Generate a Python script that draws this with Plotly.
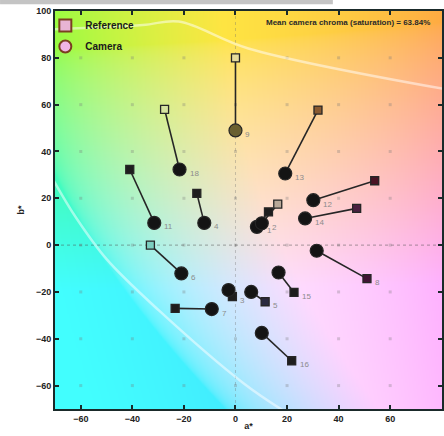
import base64, struct, zlib
import numpy as np
import plotly.graph_objects as go

# ---------------- data ----------------
labels = ["9", "18", "11", "4", "13", "12", "14", "1", "2", "6", "7", "3", "8", "15", "5", "16"]
ref_a = [0, -27.5, -41, -15, 32, 54, 47, 12.8, 16.4, -33, -23.4, -1.2, 51, 22.7, 11.5, 21.8]
ref_b = [80, 58, 32.3, 22.1, 57.7, 27.5, 15.7, 14.2, 17.5, 0, -27, -22, -14.3, -20.2, -24.2, -49.4]
cam_a = [0, -21.7, -31.5, -12.1, 19.3, 30.2, 27, 8.3, 10.2, -21, -9.2, -2.7, 31.5, 16.7, 6.1, 10.2]
cam_b = [49, 32.3, 9.5, 9.5, 30.6, 19.2, 11.4, 7.8, 9.3, -12.1, -27.3, -19.2, -2.4, -11.7, -20, -37.5]

gamut_top_a = [-75, -36, -22, 5, 82]
gamut_top_b = [92, 94, 95.5, 84, 66.5]
gamut_left_a = [-71, -62, -50, -29.8, 3.1, 19]
gamut_left_b = [28.5, 12, -6, -27.8, -59, -71]

x_ticks = [-60, -40, -20, 0, 20, 40, 60, 80]
y_ticks = [-60, -40, -20, 0, 20, 40, 60, 80, 100]
x_range = [-70, 80.1]
y_range = [-70, 100]
chroma_text = "Mean camera chroma (saturation) = 63.84%"

# ---------------- styles ----------------
ref_fill = ["#e6dc9a", "#d6e4a0", "#1e1e1e", "#1e1e1e", "#8a5a30", "#4a1424", "#4a2040",
            "#1e1e1e", "#b8a898", "#7ccfc0", "#1e1e1e", "#1e1e1e", "#401434", "#1e1e1e",
            "#2a2a40", "#1e1e1e"]
cam_fill = ["#6a6030"] + ["#141414"] * 15

# ---------------- background (a*b* plane at fixed L) ----------------
def lab_to_srgb(L, a, b):
    fy = (L + 16) / 116.0
    fx = fy + a / 500.0
    fz = fy - b / 200.0
    d = 6 / 29
    finv = lambda t: np.where(t > d, t ** 3, 3 * d * d * (t - 4 / 29))
    X = 0.95047 * finv(fx)
    Y = 1.0 * finv(fy)
    Z = 1.08883 * finv(fz)
    R = 3.2406 * X - 1.5372 * Y - 0.4986 * Z
    G = -0.9689 * X + 1.8758 * Y + 0.0415 * Z
    B = 0.0557 * X - 0.2040 * Y + 1.0570 * Z
    rgb = np.stack([R, G, B], axis=-1)
    rgb = np.clip(rgb, 0, 1)
    rgb = np.where(rgb > 0.0031308, 1.055 * np.power(rgb, 1 / 2.4) - 0.055, 12.92 * rgb)
    return np.clip(rgb, 0, 1)

W, H = 300, 340
aa = np.linspace(x_range[0], x_range[1], W)
bb = np.linspace(y_range[1], y_range[0], H)
A, B = np.meshgrid(aa, bb)
rgbf = lab_to_srgb(88.0, A, B)
rgbf = rgbf * 0.74 + 0.26
img = (np.clip(rgbf, 0, 1) * 255).astype(np.uint8)

def png_data_uri(arr):
    h, w, _ = arr.shape
    raw = b"".join(b"\x00" + arr[r].tobytes() for r in range(h))
    def chunk(tag, data):
        c = struct.pack(">I", len(data)) + tag + data
        return c + struct.pack(">I", zlib.crc32(tag + data) & 0xFFFFFFFF)
    png = b"\x89PNG\r\n\x1a\n" + chunk(b"IHDR", struct.pack(">IIBBBBB", w, h, 8, 2, 0, 0, 0)) \
        + chunk(b"IDAT", zlib.compress(raw, 9)) + chunk(b"IEND", b"")
    return "data:image/png;base64," + base64.b64encode(png).decode()

fig = go.Figure()

# grid dots
gx, gy = [], []
for xv in x_ticks[:-1]:
    for yv in y_ticks[:-1]:
        gx.append(xv)
        gy.append(yv)
fig.add_trace(go.Scatter(x=gx, y=gy, mode="markers", hoverinfo="skip", showlegend=False,
                         marker=dict(symbol="square", size=3, color="rgba(120,120,120,0.3)")))

# zero lines
fig.add_trace(go.Scatter(x=[0, 0], y=y_range, mode="lines", hoverinfo="skip", showlegend=False,
                         line=dict(color="rgba(110,110,110,0.35)", width=1, dash="dot")))
fig.add_trace(go.Scatter(x=x_range, y=[0, 0], mode="lines", hoverinfo="skip", showlegend=False,
                         line=dict(color="rgba(80,80,80,0.5)", width=1, dash="dot")))

# gamut outline
for ga, gb in [(gamut_top_a, gamut_top_b), (gamut_left_a, gamut_left_b)]:
    fig.add_trace(go.Scatter(x=ga, y=gb, mode="lines", hoverinfo="skip", showlegend=False,
                             line=dict(color="rgba(255,255,255,0.5)", width=2.5, shape="spline")))

# connecting lines
lx, ly = [], []
for ra, rb, ca, cb in zip(ref_a, ref_b, cam_a, cam_b):
    lx += [ra, ca, None]
    ly += [rb, cb, None]
fig.add_trace(go.Scatter(x=lx, y=ly, mode="lines", hoverinfo="skip", showlegend=False,
                         line=dict(color="#262626", width=1.6)))

# reference squares & camera circles
fig.add_trace(go.Scatter(x=ref_a, y=ref_b, mode="markers", showlegend=False, name="Reference",
                         marker=dict(symbol="square", size=8, color=ref_fill,
                                     line=dict(color="#262626", width=1.3))))
fig.add_trace(go.Scatter(x=cam_a, y=cam_b, mode="markers", showlegend=False, name="Camera",
                         marker=dict(symbol="circle", size=13, color=cam_fill,
                                     line=dict(color="#262626", width=1.2))))

# legend entries
fig.add_trace(go.Scatter(x=[None], y=[None], mode="markers", name="Reference", legendgroup="r",
                         marker=dict(symbol="square", size=8, color="#e8b4d4",
                                     line=dict(color="#7a4020", width=1.5))))
fig.add_trace(go.Scatter(x=[None], y=[None], mode="markers", name="Camera", legendgroup="c",
                         marker=dict(symbol="circle", size=12, color="#f0b4e4",
                                     line=dict(color="#7a4020", width=1.5))))

# patch labels (next to lower point of each pair)
annotations = []
for lab, ra, rb, ca, cb in zip(labels, ref_a, ref_b, cam_a, cam_b):
    if cb <= rb:
        px, py, sh = ca, cb, 8
    else:
        px, py, sh = ra, rb, 6
    annotations.append(dict(x=px, y=py, xref="x", yref="y", text=lab, showarrow=False,
                            xanchor="left", yanchor="middle", xshift=sh, yshift=-4,
                            font=dict(size=8, color="#8c8c8c", family="Liberation Sans")))

annotations.append(dict(x=0.975, y=0.972, xref="paper", yref="paper", text=chroma_text,
                        showarrow=False, xanchor="right", yanchor="middle",
                        font=dict(size=8, color="#2a2a2a", family="Liberation Sans",
                                  weight="bold")))

fig.update_layout(
    width=444, height=436,
    margin=dict(l=55, r=2, t=11, b=27),
    paper_bgcolor="white", plot_bgcolor="white",
    images=[dict(source=png_data_uri(img), xref="x", yref="y", x=x_range[0], y=y_range[1],
                 sizex=x_range[1] - x_range[0], sizey=y_range[1] - y_range[0],
                 sizing="stretch", layer="below")],
    shapes=[dict(type="rect", xref="paper", yref="paper", x0=-0.142, x1=0.718,
                 y0=1.017, y1=1.0276, fillcolor="#c4c4c4", line=dict(width=0))],
    annotations=annotations,
    showlegend=True,
    legend=dict(x=-0.025, y=1.0, xanchor="left", yanchor="top", bgcolor="rgba(0,0,0,0)",
                traceorder="grouped", tracegroupgap=2, itemsizing="constant",
                font=dict(size=10, color="#1a1a1a", family="Liberation Sans", weight="bold")),
    font=dict(family="Liberation Sans"),
)
axis_common = dict(ticks="inside", ticklen=4, tickwidth=2, tickcolor="#1a2a2a",
                   showline=True, linewidth=2, linecolor="#1a2a2a", mirror="ticks",
                   showgrid=False, zeroline=False, automargin=False,
                   tickfont=dict(size=9, color="#222222", family="Liberation Sans", weight="bold"))
fig.update_xaxes(range=x_range, tickvals=x_ticks, title=dict(text="a*", standoff=0,
                 font=dict(size=9, color="#222222", weight="bold")), **axis_common)
fig.update_yaxes(range=y_range, tickvals=y_ticks, title=dict(text="b*", standoff=10,
                 font=dict(size=9, color="#222222", weight="bold")), **axis_common)

fig.write_html("out.html", config={"displayModeBar": False},
               post_script="document.body.style.margin='0';")
